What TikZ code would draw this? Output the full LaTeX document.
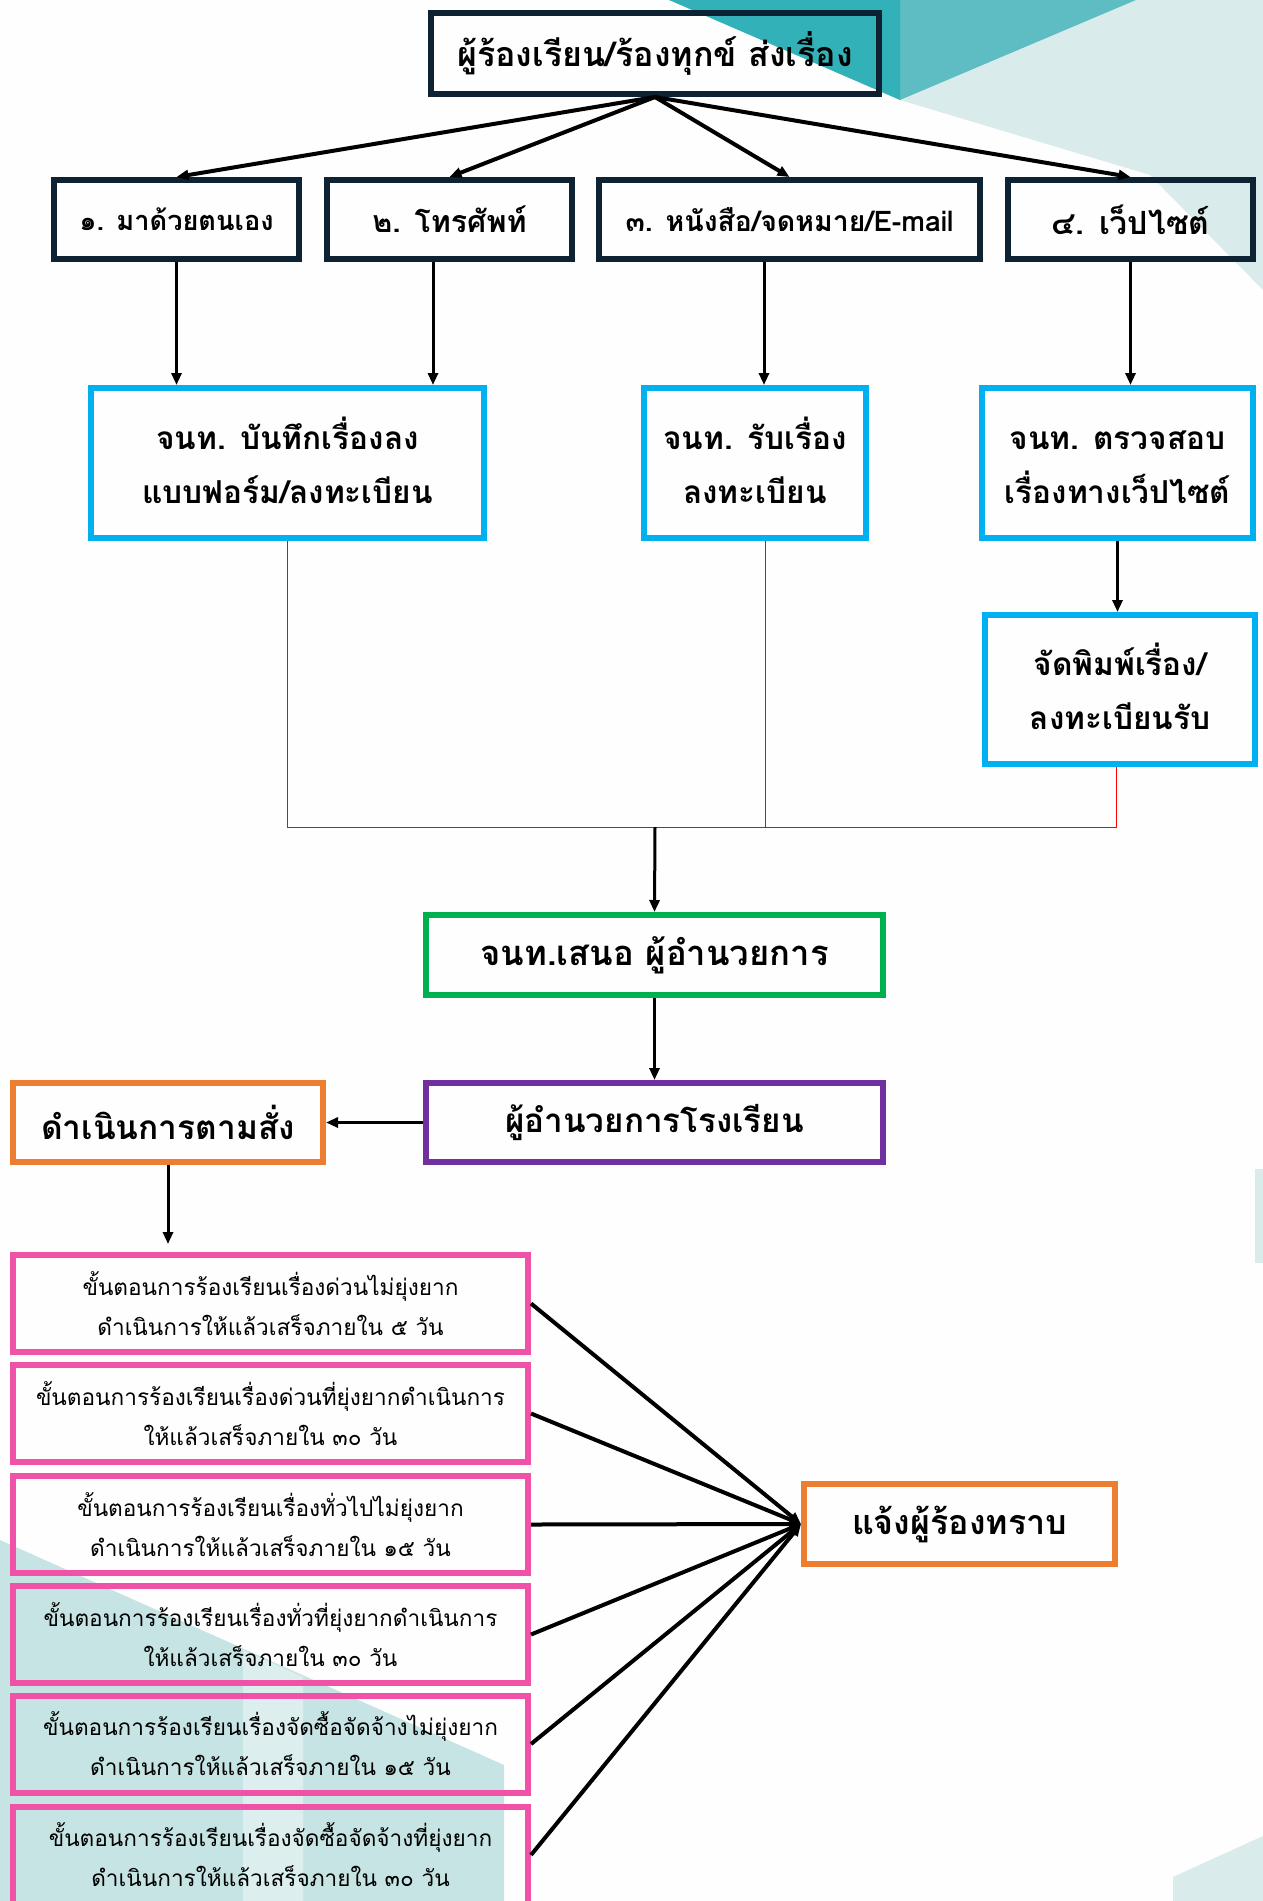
\documentclass[tikz,border=0pt]{standalone}
\usepackage{fontspec}
\setmainfont{Loma}[Script=Thai]
\usetikzlibrary{arrows.meta}
\definecolor{navy}{HTML}{0D2233}
\definecolor{sky}{HTML}{00B0F0}
\definecolor{leaf}{HTML}{00B050}
\definecolor{grape}{HTML}{7030A0}
\definecolor{carrot}{HTML}{ED7D31}
\definecolor{rose}{HTML}{F052A8}
\definecolor{tealA}{HTML}{33B1B8}
\definecolor{tealB}{HTML}{5DBDC2}
\definecolor{tealC}{HTML}{DAEBEB}
\definecolor{tealD}{HTML}{C7E4E4}
\definecolor{tealE}{HTML}{DDEEEE}
\newcommand{\linestrut}{\rule[-4pt]{0pt}{21pt}}
\tikzset{>/.tip={Triangle[length=6pt,width=5pt]},
  box/.style={draw, line width=3pt, align=center, inner sep=0pt},
  waybox/.style={box, draw=navy, minimum height=39.5pt, font=\bfseries\fontsize{13.6}{16}\selectfont},
  staffbox/.style={box, draw=sky, minimum height=75pt, font=\bfseries\fontsize{15.8}{27}\selectfont},
  onebox/.style={box, minimum height=39.5pt, font=\bfseries\fontsize{17}{20}\selectfont},
  stepbox/.style={box, draw=rose, minimum width=257.5pt, minimum height=48.5pt, font=\fontsize{11.3}{20}\selectfont},
  flow/.style={->, line width=1.5pt},
  fan/.style={->, line width=2pt}}

\begin{document}
\begin{tikzpicture}[x=0.5pt,y=-0.5pt]
\useasboundingbox (0,0) rectangle (1263,1901);
\fill[white!97!tealC] (0,0) rectangle (1263,1901);
% background shapes
\fill[tealC] (1136,0) -- (1263,0) -- (1263,290) -- (1150,175) -- (900,100) -- cycle;
\fill[tealB] (900,0) -- (1136,0) -- (900,100) -- cycle;
\fill[tealA] (669,0) -- (900,0) -- (900,100) -- cycle;
\fill[tealD] (0,1540) -- (504,1765) -- (504,1901) -- (0,1901) -- cycle;
\fill[tealE] (243,1650) -- (303,1677) -- (303,1901) -- (243,1901) -- cycle;
\fill[tealC] (1255,1169) rectangle (1263,1263);
\fill[tealC] (1173,1877) -- (1263,1836) -- (1263,1901) -- (1173,1901) -- cycle;

\node[onebox, draw=navy, minimum width=224pt, minimum height=40.5pt] (sender) at (655,53.5) {ผู้ร้องเรียน/ร้องทุกข์ ส่งเรื่อง};

\node[waybox, minimum width=122.5pt] (way-1) at (176.5,219.5) {๑. มาด้วยตนเอง};
\node[waybox, minimum width=122.5pt, font=\bfseries\fontsize{15.2}{18}\selectfont] (way-2) at (449.5,219.5) {๒. โทรศัพท์};
\node[waybox, minimum width=190.5pt, font=\bfseries\fontsize{14.2}{17}\selectfont] (way-3) at (789.5,219.5) {๓. หนังสือ/จดหมาย/E-mail};
\node[waybox, minimum width=122.5pt, font=\bfseries\fontsize{16}{19}\selectfont] (way-4) at (1130.5,219.5) {๔. เว็ปไซต์};

\node[staffbox, minimum width=196.5pt] (staff-1) at (287.5,463) {\linestrut จนท. บันทึกเรื่องลง\\\linestrut แบบฟอร์ม/ลงทะเบียน};
\node[staffbox, minimum width=111pt] (staff-2) at (755,463) {\linestrut จนท. รับเรื่อง\\\linestrut ลงทะเบียน};
\node[staffbox, minimum width=135.5pt] (staff-3) at (1117.5,463) {\linestrut จนท. ตรวจสอบ\\\linestrut เรื่องทางเว็ปไซต์};
\node[staffbox, minimum width=135pt, minimum height=74.5pt] (print) at (1120,689.5) {\linestrut จัดพิมพ์เรื่อง/\\\linestrut ลงทะเบียนรับ};

\coordinate (join) at (655,827);
\node[onebox, draw=leaf, minimum width=228.5pt, minimum height=40pt, font=\bfseries\fontsize{17.3}{20}\selectfont] (propose) at (654.5,955) {จนท.เสนอ ผู้อำนวยการ};
\node[onebox, draw=grape, minimum width=228.5pt, font=\bfseries\fontsize{16.6}{20}\selectfont] (director) at (654.5,1122.5) {ผู้อำนวยการโรงเรียน};
\node[onebox, draw=carrot, minimum width=155pt, font=\bfseries\fontsize{16.7}{20}\selectfont] (act) at (168,1122.5) {ดำเนินการตามสั่ง};

\node[stepbox] (step-1) at (270.5,1303.5) {ขั้นตอนการร้องเรียนเรื่องด่วนไม่ยุ่งยาก\\ดำเนินการให้แล้วเสร็จภายใน ๕ วัน};
\node[stepbox] (step-2) at (270.5,1413.5) {ขั้นตอนการร้องเรียนเรื่องด่วนที่ยุ่งยากดำเนินการ\\ให้แล้วเสร็จภายใน ๓๐ วัน};
\node[stepbox] (step-3) at (270.5,1524.5) {ขั้นตอนการร้องเรียนเรื่องทั่วไปไม่ยุ่งยาก\\ดำเนินการให้แล้วเสร็จภายใน ๑๕ วัน};
\node[stepbox] (step-4) at (270.5,1634.5) {ขั้นตอนการร้องเรียนเรื่องทั่วที่ยุ่งยากดำเนินการ\\ให้แล้วเสร็จภายใน ๓๐ วัน};
\node[stepbox] (step-5) at (270.5,1744) {ขั้นตอนการร้องเรียนเรื่องจัดซื้อจัดจ้างไม่ยุ่งยาก\\ดำเนินการให้แล้วเสร็จภายใน ๑๕ วัน};
\node[stepbox] (step-6) at (270.5,1855) {ขั้นตอนการร้องเรียนเรื่องจัดซื้อจัดจ้างที่ยุ่งยาก\\ดำเนินการให้แล้วเสร็จภายใน ๓๐ วัน};

\node[onebox, draw=carrot, minimum width=155.5pt, minimum height=40pt] (notify) at (959.5,1524) {แจ้งผู้ร้องทราบ};

\foreach \i in {1,...,4} \draw[fan] (sender.south) -- (way-\i.north);

\draw[flow] (way-1.south) -- (way-1.south |- staff-1.north);
\draw[flow] ([xshift=-8.25pt]way-2.south) -- ([xshift=-8.25pt]way-2.south |- staff-1.north);
\draw[flow] ([xshift=-12.75pt]way-3.south) -- ([xshift=-12.75pt]way-3.south |- staff-2.north);
\draw[flow] (way-4.south) -- (way-4.south |- staff-3.north);
\draw[flow] (staff-3.south) -- (staff-3.south |- print.north);

\draw[red, line width=0.5pt] (staff-1.south) |- ([xshift=-2pt]print.south |- join) -- ([xshift=-2pt]print.south);
\draw[red, line width=0.5pt] ([xshift=5pt]staff-2.south) -- ([xshift=5pt]staff-2.south |- join);
\draw[flow] (join) -- (propose.north);
\draw[flow] (propose.south) -- (director.north);
\draw[flow] (director.west) -- (act.east);
\draw[flow] (act.south) -- ([yshift=4pt]act.south |- step-1.north);

\foreach \i in {1,...,6} \draw[fan] (step-\i.east) -- (notify.west);
\end{tikzpicture}
\end{document}
